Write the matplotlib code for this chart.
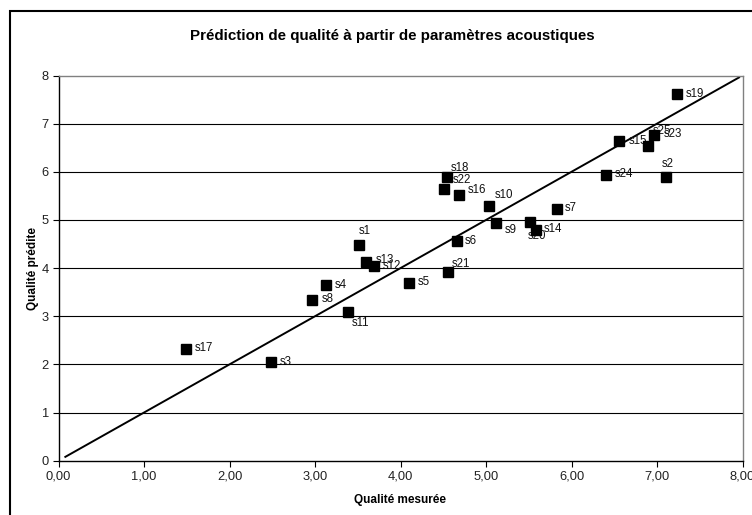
import matplotlib
matplotlib.use("Agg")
import matplotlib.pyplot as plt
from matplotlib.patches import Rectangle

plt.rcParams['font.family'] = ['Liberation Sans', 'DejaVu Sans']

# samples: measured quality vs predicted quality
names = ['s%d' % i for i in range(1, 26)]
mesure = [3.51, 7.10, 2.49, 3.13, 4.10, 4.66, 5.83, 2.97, 5.12, 5.03,
          3.39, 3.69, 3.60, 5.58, 6.56, 4.69, 1.49, 4.54, 7.23, 5.51,
          4.56, 4.51, 6.97, 6.40, 6.90]
predite = [4.47, 5.90, 2.06, 3.64, 3.69, 4.56, 5.22, 3.33, 4.93, 5.29,
           3.09, 4.05, 4.13, 4.79, 6.65, 5.51, 2.31, 5.90, 7.62, 4.95,
           3.91, 5.65, 6.76, 5.93, 6.54]
# reference line y = x
ligne_x = [0.08, 7.96]
ligne_y = [0.08, 7.96]

x_ticks = [0, 1, 2, 3, 4, 5, 6, 7, 8]
y_ticks = [0, 1, 2, 3, 4, 5, 6, 7, 8]

# label offsets in pixels (dx right, dy down)
offsets = {
    's1': (0, -14), 's2': (-4, -13), 's3': (8, 0), 's4': (9, 0), 's5': (9, -1),
    's6': (8, 0), 's7': (8, -1), 's8': (9, -1), 's9': (8, 7), 's10': (6, -11),
    's11': (3, 11), 's12': (9, 0), 's13': (9, -2), 's14': (8, -1), 's15': (9, 0),
    's16': (8, -5), 's17': (9, -1), 's18': (4, -9), 's19': (9, 0), 's20': (-2, 14),
    's21': (3, -8), 's22': (9, -9), 's23': (9, -1), 's24': (9, -1), 's25': (4, -15),
}

W, H = 752, 515
fig = plt.figure(figsize=(W / 100, H / 100), dpi=100)
ax = fig.add_axes([58.5 / W, (H - 460.7) / H, (742.5 - 58.5) / W, (460.7 - 75.5) / H])

# outer chart frame (runs off the right and bottom edges)
fig.add_artist(Rectangle((10 / W, -0.1), 1.0, (H - 11) / H + 0.1,
                         transform=fig.transFigure, fill=False,
                         edgecolor='black', lw=1.5, clip_on=False))

for yv in y_ticks[1:-1]:
    ax.axhline(yv, color='black', lw=0.8, zorder=1)

ax.plot(ligne_x, ligne_y, color='black', lw=1.4, zorder=2)
ax.plot(mesure, predite, 's', color='black', markersize=6.5, zorder=4)

for n, xv, yv in zip(names, mesure, predite):
    dx, dy = offsets[n]
    ax.annotate(n, (xv, yv), xytext=(dx, -dy), textcoords='offset pixels',
                ha='left', va='center', fontsize=8.3, color='#111111', zorder=3)

ax.set_xlim(0, 8)
ax.set_ylim(0, 8)
ax.set_xticks(x_ticks)
ax.set_xticklabels([('%.2f' % v).replace('.', ',') for v in x_ticks])
ax.set_yticks(y_ticks)
ax.tick_params(direction='out', length=4, width=0.8, labelsize=9.3, pad=3,
               labelcolor='#222222')

for s in ['top', 'right']:
    ax.spines[s].set_color('#808080')
    ax.spines[s].set_linewidth(1.0)
for s in ['left', 'bottom']:
    ax.spines[s].set_color('black')
    ax.spines[s].set_linewidth(1.0)

ax.set_xlabel('Qualité mesurée', fontsize=8.5, fontweight='bold', labelpad=8)
ax.set_ylabel('Qualité prédite', fontsize=8.5, fontweight='bold', labelpad=2)
fig.text(392 / W, 1 - 36 / H, 'Prédiction de qualité à partir de paramètres acoustiques',
         ha='center', va='center', fontsize=10.9, fontweight='bold')

fig.savefig('out.png', dpi=100)
